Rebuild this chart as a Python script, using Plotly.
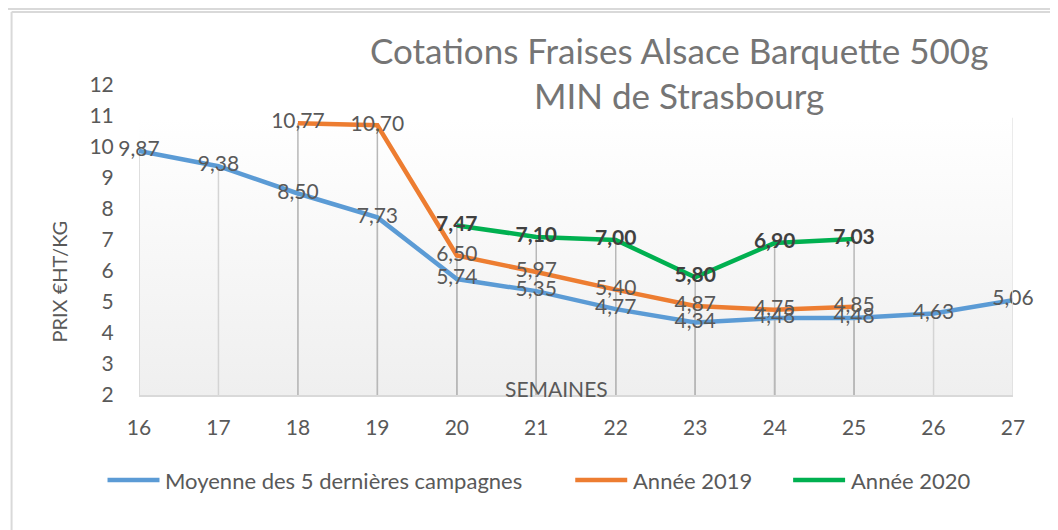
import plotly.graph_objects as go

# ---- data ----
weeks = [16, 17, 18, 19, 20, 21, 22, 23, 24, 25, 26, 27]
moyenne = [9.87, 9.38, 8.50, 7.73, 5.74, 5.35, 4.77, 4.34, 4.48, 4.48, 4.63, 5.06]
weeks_2019 = [18, 19, 20, 21, 22, 23, 24, 25]
annee_2019 = [10.77, 10.70, 6.50, 5.97, 5.40, 4.87, 4.75, 4.85]
weeks_2020 = [20, 21, 22, 23, 24, 25]
annee_2020 = [7.47, 7.10, 7.00, 5.80, 6.90, 7.03]
series_names = ["Moyenne des 5 dernières campagnes", "Année 2019", "Année 2020"]
series_colors = ["#5B9BD5", "#ED7D31", "#00B050"]
y_ticks = [2, 3, 4, 5, 6, 7, 8, 9, 10, 11, 12]
title_lines = ["Cotations Fraises Alsace Barquette 500g", "MIN de Strasbourg"]

# page has an 8px body margin: the figure starts at screen (8, 8)
OFF = 8
SW, SH = 1058, 530
W, H = SW - OFF, SH - OFF
# plot area in screen pixels
L, R, T, B = 138.5, 1013, 85, 395
FONT = "Lato"
TXT = "#595959"


def fx(px):
    return (px - L) / (R - L)


def fy(py):
    return (B - py) / (B - T)


def fmt(v):
    return f"{v:.2f}".replace(".", ",")


def droplines(xs, ys):
    dx, dy = [], []
    for x, y in zip(xs, ys):
        dx += [x, x, None]
        dy += [2, y, None]
    return dx, dy


fig = go.Figure()

# plot-area gradient background
fig.add_trace(go.Scatter(
    x=[16, 27, 27, 16, 16], y=[2, 2, 10.94, 10.94, 2], mode="lines",
    line=dict(width=0), fill="toself",
    fillgradient=dict(type="vertical", colorscale=[[0, "#efefef"], [1, "#ffffff"]]),
    hoverinfo="skip", showlegend=False))

# drop lines
for xs, ys, col in [(weeks, moyenne, "#d4d4d4"),
                    (weeks_2019, annee_2019, "#b8b8b8"),
                    (weeks_2020, annee_2020, "#b8b8b8")]:
    dx, dy = droplines(xs, ys)
    fig.add_trace(go.Scatter(x=dx, y=dy, mode="lines", line=dict(color=col, width=1.5),
                             hoverinfo="skip", showlegend=False))

# series lines
all_series = [(weeks, moyenne), (weeks_2019, annee_2019), (weeks_2020, annee_2020)]
for (xs, ys), name, col in zip(all_series, series_names, series_colors):
    fig.add_trace(go.Scatter(x=xs, y=ys, mode="lines", name=name, cliponaxis=False,
                             line=dict(color=col, width=4.5), showlegend=False))

# data labels
for i, ((xs, ys), name) in enumerate(zip(all_series, series_names)):
    bold = i == 2
    fig.add_trace(go.Scatter(
        x=xs, y=ys, mode="text", cliponaxis=False,
        text=[f"<b>{fmt(v)}</b>" if bold else fmt(v) for v in ys],
        textposition="middle center",
        textfont=dict(family=FONT, size=21, color="#404040" if bold else TXT),
        hoverinfo="skip", showlegend=False))

shapes = []
annotations = []

# outer frames
grey = "#d9d9d9"
shapes.append(dict(type="line", xref="paper", yref="paper", x0=fx(2), x1=fx(SW), y0=fy(9), y1=fy(9),
                   line=dict(color=grey, width=2)))
shapes.append(dict(type="line", xref="paper", yref="paper", x0=fx(11), x1=fx(SW), y0=fy(12), y1=fy(12),
                   line=dict(color=grey, width=2)))
shapes.append(dict(type="line", xref="paper", yref="paper", x0=fx(11), x1=fx(11), y0=fy(12), y1=fy(SH),
                   line=dict(color=grey, width=2)))
# plot-area right edge
shapes.append(dict(type="line", xref="x", yref="y", x0=27, x1=27, y0=2, y1=10.94,
                   line=dict(color="#e4e4e4", width=1.5)))

# title
for txt, py in zip(title_lines, [50, 95]):
    annotations.append(dict(text=txt, xref="paper", yref="paper", x=fx(679), y=fy(py),
                            xanchor="center", yanchor="middle", showarrow=False,
                            font=dict(family=FONT, size=35, color="#757575")))

# axis titles
annotations.append(dict(text="PRIX €HT/KG", xref="paper", yref="paper", x=fx(58), y=fy(282),
                        textangle=-90, xanchor="center", yanchor="middle", showarrow=False,
                        font=dict(family=FONT, size=20, color=TXT)))
annotations.append(dict(text="SEMAINES", xref="paper", yref="paper", x=fx(556), y=fy(388),
                        xanchor="center", yanchor="middle", showarrow=False,
                        font=dict(family=FONT, size=21, color=TXT)))

# custom legend
leg_x = [107, 575, 793]
for name, col, lx in zip(series_names, series_colors, leg_x):
    shapes.append(dict(type="line", xref="paper", yref="paper", x0=fx(lx), x1=fx(lx + 52),
                       y0=fy(480), y1=fy(480), line=dict(color=col, width=4.5)))
    annotations.append(dict(text=name, xref="paper", yref="paper", x=fx(lx + 56), y=fy(480),
                            xanchor="left", yanchor="middle", showarrow=False,
                            font=dict(family=FONT, size=22, color=TXT)))

fig.update_layout(
    width=W, height=H,
    margin=dict(l=L - OFF, r=SW - R, t=T - OFF, b=SH - B, pad=0),
    paper_bgcolor="white", plot_bgcolor="white",
    showlegend=False,
    shapes=shapes, annotations=annotations,
    xaxis=dict(range=[16, 27], tickmode="array", tickvals=weeks, ticktext=[str(w) for w in weeks],
               showgrid=False, zeroline=False, showline=True, linecolor="#d9d9d9", linewidth=1.5,
               ticks="outside", ticklen=13, tickcolor="rgba(0,0,0,0)",
               tickfont=dict(family=FONT, size=21, color=TXT)),
    yaxis=dict(range=[2, 12], tickmode="array", tickvals=y_ticks, showgrid=False, zeroline=False,
               showline=False, ticks="outside", ticklen=20, tickcolor="rgba(0,0,0,0)",
               tickfont=dict(family=FONT, size=21, color=TXT)),
)

fig.write_html("out.html")
